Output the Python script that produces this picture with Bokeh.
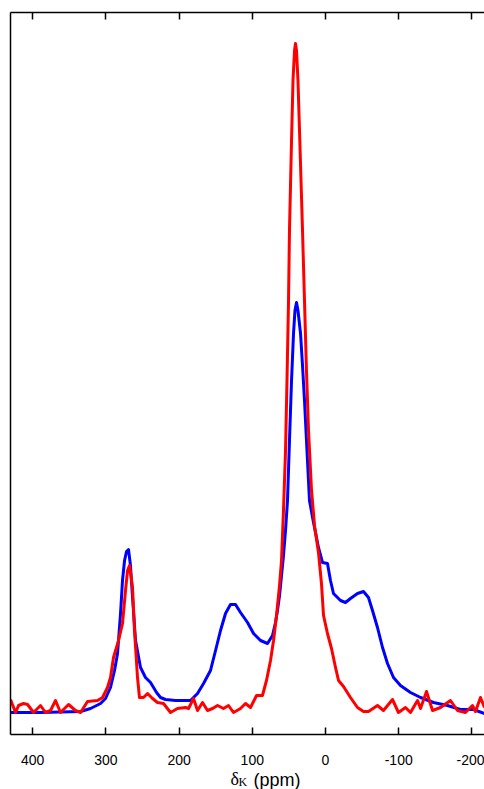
from bokeh.plotting import figure
from bokeh.models import Range1d, LinearAxis, FixedTicker, Label
from bokeh.layouts import column
from bokeh.embed import file_html
from bokeh.resources import INLINE

# chemical shift (ppm) and intensity (arbitrary units)
blue_ppm = [430.3, 389.3, 334.6, 321.0, 307.3, 300.5, 293.7, 288.2, 284.1, 280.0, 277.3, 274.5,
            271.8, 269.1, 266.4, 263.6, 259.5, 252.7, 245.9, 239.0, 230.8, 225.4, 218.5, 204.9,
            184.4, 174.8, 166.6, 157.1, 150.2, 143.4, 136.6, 129.8, 122.9, 116.1, 106.5, 98.3,
            88.8, 79.2, 72.4, 68.3, 65.6, 62.8, 60.1, 57.4, 54.6, 51.9, 49.2, 46.4, 43.7, 41.7,
            39.6, 37.6, 34.1, 31.4, 28.7, 25.3, 21.9, 16.4, 9.6, 4.1, -2.7, -6.8, -10.9, -20.5,
            -27.3, -34.1, -43.7, -51.9, -58.7, -64.2, -71.0, -77.9, -84.7, -92.9, -102.4, -116.1,
            -129.8, -147.5, -166.6, -184.4, -202.2, -217.2]
blue_int = [0, 0, 1, 4, 9, 14, 25, 42, 59, 99, 132, 152,
            161, 163, 147, 115, 72, 45, 35, 30, 20, 15, 13, 12,
            12, 19, 29, 42, 62, 82, 99, 108, 108, 100, 90, 79,
            72, 69, 77, 90, 102, 117, 137, 157, 182, 212, 272, 332, 379, 402,
            410, 402, 379, 347, 312, 262, 212, 190, 165, 150, 149, 132, 119, 112,
            110, 114, 119, 121, 115, 102, 85, 65, 49, 35, 27, 20,
            15, 10, 7, 3, 3, -1]

red_ppm = [430.3, 423.4, 419.3, 412.5, 407.0, 398.8, 389.3, 382.5, 375.6, 368.8, 362.0, 351.0,
           341.5, 334.6, 325.1, 311.4, 304.6, 297.8, 293.7, 289.6, 282.7, 277.3, 273.2, 270.4,
           267.7, 263.6, 260.9, 256.8, 254.1, 248.6, 243.1, 236.3, 229.5, 221.3, 211.7, 202.2,
           191.2, 187.1, 180.3, 174.8, 168.0, 161.2, 154.3, 147.5, 139.3, 132.5, 125.7, 116.1,
           109.3, 102.4, 94.2, 86.1, 80.6, 75.1, 71.0, 66.9, 62.8, 60.1, 57.4, 54.6, 52.6, 50.5,
           49.2, 46.4, 44.4, 42.3, 41.0, 39.6, 37.6, 35.5, 31.4, 28.7, 26.0, 23.2, 19.1, 15.0,
           9.6, 5.5, 2.7, -2.7, -8.2, -13.7, -17.8, -24.6, -34.1, -43.7, -51.9, -58.7, -71.0,
           -79.2, -91.5, -99.7, -109.3, -116.1, -125.7, -129.8, -138.0, -146.2, -157.1, -170.7,
           -180.3, -191.2, -200.8, -204.9, -211.7, -217.2]
red_int = [13, 0, 7, 9, 8, 0, 7, 0, 2, 12, 0, 8,
           2, 0, 11, 12, 15, 25, 35, 55, 72, 89, 122, 142,
           147, 125, 82, 35, 15, 15, 19, 14, 10, 9, 0, 4,
           5, 4, 14, 2, 10, 2, 4, 7, 4, 7, 0, 4,
           9, 5, 17, 17, 32, 52, 72, 97, 127, 152, 202, 262, 332, 412,
           482, 572, 632, 662, 669, 662, 632, 582, 482, 412, 342, 282, 222, 187,
           160, 129, 97, 79, 64, 45, 32, 26, 15, 5, 1, 1, 7,
           2, 13, 0, 5, 0, 12, 4, 21, 2, 5, 12,
           2, 0, 7, 1, 15, 5]

tick_values = [400, 300, 200, 100, 0, -100, -200]
tick_labels = ["400", "300", "200", "100", "0", "-100", "-200"]

p = figure(width=484, height=770,
           x_range=Range1d(430.3, -217.2), y_range=Range1d(-22, 700),
           output_backend="svg", toolbar_location=None,
           x_axis_location=None, y_axis_location=None,
           min_border_left=10, min_border_right=0, min_border_top=12, min_border_bottom=36)
p.outline_line_color = None
p.grid.grid_line_color = None
p.background_fill_color = "white"
p.border_fill_color = "white"

overrides = {v: s for v, s in zip(tick_values, tick_labels)}

xb = LinearAxis(ticker=FixedTicker(ticks=tick_values), major_label_overrides=overrides)
xb.major_tick_in = 7
xb.major_tick_out = 0
xb.minor_tick_line_color = None
xb.axis_line_width = 1.5
xb.major_tick_line_width = 1.5
xb.major_label_standoff = 20
xb.major_label_text_font = "Liberation Sans"
xb.major_label_text_font_size = "14px"
xb.major_label_text_color = "black"
p.add_layout(xb, "below")

xt = LinearAxis(ticker=FixedTicker(ticks=tick_values))
xt.major_tick_in = 7
xt.major_tick_out = 0
xt.minor_tick_line_color = None
xt.axis_line_width = 1.5
xt.major_tick_line_width = 1.5
xt.major_label_standoff = 0
xt.major_label_text_font_size = "1px"
xt.major_label_text_color = None
p.add_layout(xt, "above")

yl = LinearAxis(ticker=FixedTicker(ticks=[]))
yl.major_tick_in = 0
yl.major_tick_out = 0
yl.major_tick_line_color = None
yl.minor_tick_line_color = None
yl.axis_line_width = 1.5
yl.major_label_standoff = 0
yl.major_label_text_font_size = "1px"
yl.major_label_text_color = None
p.add_layout(yl, "left")

p.line(blue_ppm, blue_int, line_color="#0000ff", line_width=3, line_join="round")
p.line(red_ppm, red_int, line_color="#ff0000", line_width=3, line_join="round")

# axis title strip under the plot (its frame is aligned with the plot frame)
t = figure(width=484, height=19, x_range=Range1d(0, 474), y_range=Range1d(0, 19),
           output_backend="svg", toolbar_location=None,
           x_axis_location=None, y_axis_location=None,
           min_border_left=10, min_border_right=0, min_border_top=0, min_border_bottom=0)
t.outline_line_color = None
t.grid.grid_line_color = None
t.add_layout(Label(x=220, y=11, x_units="screen", y_units="screen", text="δ",
                   text_font="Liberation Serif", text_font_size="18px",
                   text_baseline="alphabetic", text_align="left", text_color="black"))
t.add_layout(Label(x=228, y=8, x_units="screen", y_units="screen", text="K",
                   text_font="Liberation Serif", text_font_size="12px",
                   text_baseline="alphabetic", text_align="left", text_color="black"))
t.add_layout(Label(x=243, y=10, x_units="screen", y_units="screen", text="(ppm)",
                   text_font="Liberation Sans", text_font_size="18px",
                   text_baseline="alphabetic", text_align="left", text_color="black"))

open("out.html", "w").write(file_html(column(p, t, spacing=0), INLINE))
